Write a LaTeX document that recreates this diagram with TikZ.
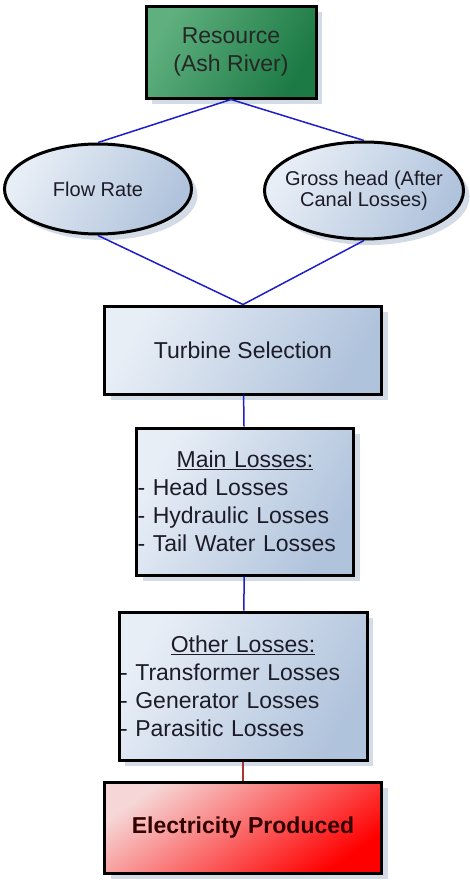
\documentclass[tikz,border=0pt]{standalone}
\usepackage{fontspec}
\setmainfont{Liberation Sans}
\usepackage{tikz}
\usetikzlibrary{positioning,shapes.geometric,shadows}
\definecolor{boxlight}{HTML}{E8EEF6}
\definecolor{boxdark}{HTML}{B0C3DC}
\definecolor{greenlight}{HTML}{5FAF7F}
\definecolor{greendark}{HTML}{1C7A44}
\definecolor{redlight}{HTML}{F6D6D6}
\definecolor{shadowblue}{HTML}{D2DBE6}
\definecolor{textdark}{HTML}{1C1C28}
\definecolor{linkblue}{HTML}{1E1EC8}
\definecolor{linkred}{HTML}{A83434}
\tikzset{every picture/.style={line width=0.8pt}}

\begin{document}
\begin{tikzpicture}[x=1pt, y=-1pt,
    base/.style={draw=black, line width=3pt, text=textdark,
        drop shadow={shadow xshift=6pt, shadow yshift=-6pt, fill=shadowblue, opacity=1}},
    bluebox/.style={base, rectangle, left color=boxlight, right color=boxdark, shading angle=60,
        font=\fontsize{23}{28}\selectfont},
    listbox/.style={bluebox, align=left, inner xsep=1pt},
    bluefield/.style={base, ellipse, inner sep=0pt, left color=boxlight, right color=boxdark, shading angle=60,
        align=center, font=\fontsize{20}{21}\selectfont},
    link/.style={draw=linkblue, line width=1.5pt}]
    \useasboundingbox (0,0) rectangle (469,886);

    % Source at the top
\node[base, rectangle, left color=greenlight, right color=greendark, shading angle=60, text=black!85,
    minimum width=170pt, minimum height=92pt, align=center, font=\fontsize{23}{28}\selectfont] (res) at (231,52) {Resource\\(Ash River)};

    % Two inputs
\node[bluefield, minimum width=187pt, minimum height=90pt, below=43pt of res, xshift=-133pt] (flow) {Flow Rate};
\node[bluefield, inner xsep=-10pt, minimum width=199pt, minimum height=97pt, below=41pt of res, xshift=133pt] (gross) {Gross head (After\\Canal Losses)};

    % Chain of boxes
\node[bluebox, minimum width=277pt, minimum height=88pt, below=205pt of res, xshift=12pt] (turb) {Turbine Selection};
\node[listbox, text width=215pt, minimum height=147pt, below=31pt of turb, xshift=2pt] (main) {\makebox[215pt]{\underline{Main Losses:}}\\- Head Losses\\- Hydraulic Losses\\- Tail Water Losses};
\node[listbox, text width=246pt, minimum height=148pt, below=34pt of main, xshift=-2pt] (other) {\makebox[246pt]{\underline{Other Losses:}}\\- Transformer Losses\\- Generator Losses\\- Parasitic Losses};
\node[base, rectangle, left color=redlight, right color=red, shading angle=35, text=black!80!red,
    minimum width=277pt, minimum height=91pt, font=\bfseries\fontsize{23}{28}\selectfont, below=19pt of other] (elec) {Electricity Produced};

    % Connections
    \draw[link] (res.south) -- (flow.north);
    \draw[link] (res.south) -- (gross.north);
    \draw[link] (flow.south) -- (turb.north);
    \draw[link] (gross.south) -- (turb.north);
    \draw[link] (turb) -- (main);
    \draw[link] (main) -- (other);
    \draw[link, draw=linkred] (other) -- (elec);
\end{tikzpicture}
\end{document}
